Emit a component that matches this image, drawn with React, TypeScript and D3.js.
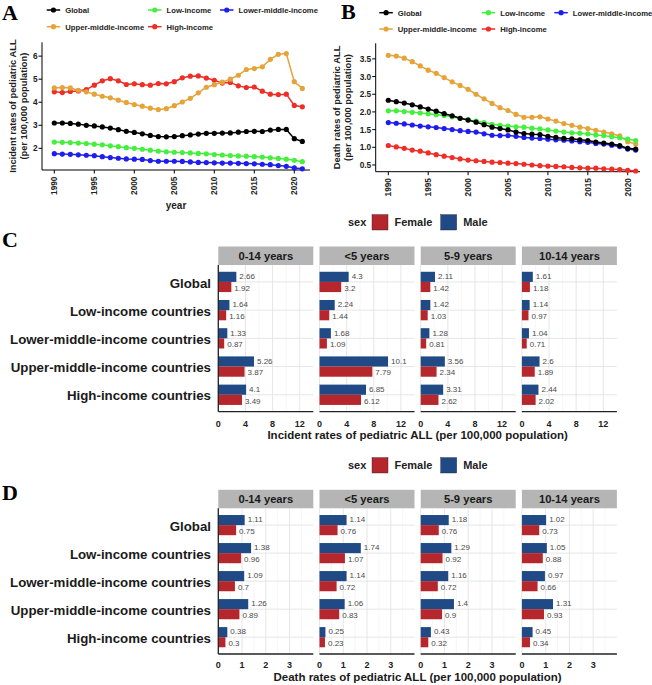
import React from "react";
import * as d3 from "d3";

const FONT = "'Liberation Sans', Arial, Helvetica, sans-serif";
const SERIF = "'Liberation Serif', 'Times New Roman', serif";

// ---------- Panel A/B data ----------
const years = [1990, 1991, 1992, 1993, 1994, 1995, 1996, 1997, 1998, 1999, 2000, 2001, 2002, 2003, 2004, 2005,
  2006, 2007, 2008, 2009, 2010, 2011, 2012, 2013, 2014, 2015, 2016, 2017, 2018, 2019, 2020, 2021];
const seriesNames = ["Global", "Low-income", "Lower-middle-income", "Upper-middle-income", "High-income"];
const seriesColors = ["#000000", "#45ef3d", "#1d1def", "#e6a33a", "#ee2e27"];

const incGlobal = [3.10, 3.10, 3.08, 3.05, 3.00, 2.97, 2.93, 2.88, 2.81, 2.74, 2.69, 2.63, 2.56, 2.51, 2.50, 2.51,
  2.55, 2.58, 2.62, 2.65, 2.65, 2.66, 2.67, 2.70, 2.73, 2.74, 2.73, 2.79, 2.82, 2.82, 2.42, 2.30];
const incLow = [2.27, 2.26, 2.25, 2.23, 2.21, 2.18, 2.15, 2.11, 2.07, 2.03, 2.00, 1.96, 1.92, 1.88, 1.85, 1.83,
  1.82, 1.80, 1.78, 1.76, 1.73, 1.71, 1.69, 1.67, 1.66, 1.64, 1.62, 1.59, 1.56, 1.53, 1.48, 1.42];
const incLowerMid = [1.77, 1.75, 1.74, 1.72, 1.70, 1.68, 1.64, 1.60, 1.57, 1.54, 1.53, 1.52, 1.47, 1.44, 1.44, 1.44,
  1.43, 1.41, 1.39, 1.38, 1.37, 1.36, 1.36, 1.35, 1.34, 1.33, 1.31, 1.29, 1.25, 1.22, 1.15, 1.11];
const incUpperMid = [4.62, 4.64, 4.62, 4.52, 4.45, 4.35, 4.26, 4.19, 4.09, 3.99, 3.90, 3.83, 3.74, 3.68, 3.72, 3.85,
  4.01, 4.17, 4.41, 4.65, 4.76, 4.87, 5.00, 5.17, 5.42, 5.46, 5.54, 5.86, 6.08, 6.11, 4.89, 4.60];
const incHigh = [4.45, 4.42, 4.47, 4.49, 4.55, 4.74, 4.93, 5.02, 4.93, 4.77, 4.80, 4.76, 4.74, 4.81, 4.80, 4.89,
  5.06, 5.13, 5.14, 5.05, 4.95, 4.83, 4.86, 4.71, 4.64, 4.66, 4.48, 4.35, 4.33, 4.35, 3.86, 3.80];

const dthGlobal = [2.33, 2.29, 2.25, 2.20, 2.14, 2.08, 2.02, 1.95, 1.89, 1.82, 1.77, 1.71, 1.64, 1.57, 1.53, 1.49,
  1.43, 1.39, 1.37, 1.36, 1.31, 1.28, 1.25, 1.24, 1.21, 1.19, 1.15, 1.12, 1.09, 1.05, 0.97, 0.95];
const dthLow = [2.03, 2.03, 2.01, 1.99, 1.97, 1.95, 1.92, 1.90, 1.86, 1.82, 1.78, 1.74, 1.70, 1.65, 1.62, 1.60,
  1.58, 1.57, 1.54, 1.52, 1.49, 1.46, 1.43, 1.41, 1.40, 1.38, 1.35, 1.33, 1.30, 1.27, 1.23, 1.19];
const dthLowerMid = [1.70, 1.68, 1.66, 1.63, 1.60, 1.58, 1.56, 1.53, 1.50, 1.47, 1.45, 1.43, 1.38, 1.34, 1.33, 1.33,
  1.31, 1.28, 1.26, 1.25, 1.23, 1.21, 1.20, 1.18, 1.16, 1.14, 1.11, 1.09, 1.06, 1.02, 0.95, 0.92];
const dthUpperMid = [3.60, 3.58, 3.52, 3.42, 3.30, 3.18, 3.09, 2.97, 2.85, 2.75, 2.64, 2.50, 2.37, 2.24, 2.12, 2.04,
  1.93, 1.85, 1.85, 1.86, 1.80, 1.74, 1.67, 1.62, 1.57, 1.53, 1.48, 1.43, 1.38, 1.32, 1.16, 1.09];
const dthHigh = [1.05, 1.01, 0.97, 0.92, 0.89, 0.84, 0.79, 0.75, 0.71, 0.67, 0.64, 0.62, 0.60, 0.58, 0.57, 0.55,
  0.54, 0.52, 0.50, 0.48, 0.47, 0.46, 0.45, 0.43, 0.42, 0.41, 0.41, 0.39, 0.38, 0.37, 0.35, 0.33];

const incTicks = [2, 3, 4, 5, 6];
const dthTicks = [0.5, 1.0, 1.5, 2.0, 2.5, 3.0, 3.5];
const yearTicks = [1990, 1995, 2000, 2005, 2010, 2015, 2020];

// ---------- Panel C/D data ----------
const countries = ["Global", "Low-income countries", "Lower-middle-income countries", "Upper-middle-income countries", "High-income countries"];
const ageGroups = ["0-14 years", "<5 years", "5-9 years", "10-14 years"];
const sexes = ["Female", "Male"];
const sexColors = ["#b5272c", "#1f4a85"];

const incMale = [
  [2.66, 1.64, 1.33, 5.26, 4.1],
  [4.3, 2.24, 1.68, 10.1, 6.85],
  [2.11, 1.42, 1.28, 3.56, 3.31],
  [1.61, 1.14, 1.04, 2.6, 2.44],
];
const incFemale = [
  [1.92, 1.16, 0.87, 3.87, 3.49],
  [3.2, 1.44, 1.09, 7.79, 6.12],
  [1.42, 1.03, 0.81, 2.34, 2.62],
  [1.18, 0.97, 0.71, 1.89, 2.02],
];
const dthMale = [
  [1.11, 1.38, 1.09, 1.26, 0.38],
  [1.14, 1.74, 1.14, 1.06, 0.25],
  [1.18, 1.29, 1.16, 1.4, 0.43],
  [1.02, 1.05, 0.97, 1.31, 0.45],
];
const dthFemale = [
  [0.75, 0.96, 0.7, 0.89, 0.3],
  [0.76, 1.07, 0.72, 0.83, 0.23],
  [0.76, 0.92, 0.72, 0.9, 0.32],
  [0.73, 0.88, 0.66, 0.93, 0.34],
];
const incBarTicks = [0, 4, 8, 12];
const incBarMinor = [2, 6, 10];
const dthBarTicks = [0, 1, 2, 3];
const dthBarMinor = [0.5, 1.5, 2.5, 3.5];

// ---------- Line panel ----------
type LineProps = {
  letter: string; letterX: number; letterY: number;
  axisX: number; top: number; bottom: number; right: number;
  xRange: [number, number]; yDomain: [number, number];
  ticks: number[]; fmt: (v: number) => string;
  data: number[][];
  title1: string; title2: string; t1x: number; t2x: number;
  legendRows: [number, number]; legendCols: number[];
  xTitle?: string; xTitleY?: number; xLabY: number;
};

function LinePanel(p: LineProps) {
  const x = d3.scaleLinear().domain([1990, 2021]).range(p.xRange);
  const y = d3.scaleLinear().domain(p.yDomain).range([p.bottom, p.top]);
  const line = d3.line<number>().x((_, i) => x(years[i])).y((v) => y(v));
  const midY = (p.top + p.bottom) / 2;
  const legendPos = [
    [p.legendCols[0], p.legendRows[0]],
    [p.legendCols[1], p.legendRows[0]],
    [p.legendCols[2], p.legendRows[0]],
    [p.legendCols[0], p.legendRows[1]],
    [p.legendCols[1], p.legendRows[1]],
  ];
  const drawOrder = [4, 3, 2, 1, 0];
  return (
    <g>
      <text x={p.letterX} y={p.letterY} fontFamily={SERIF} fontWeight="bold" fontSize={22}>{p.letter}</text>
      {legendPos.map(([lx, ly], i) => (
        <g key={i}>
          <line x1={lx} x2={lx + 13.5} y1={ly} y2={ly} stroke={seriesColors[i]} strokeWidth={1.5} />
          <circle cx={lx + 6.75} cy={ly} r={2.6} fill={seriesColors[i]} />
          <text x={lx + 18.5} y={ly + 2.8} fontFamily={FONT} fontWeight="bold" fontSize={7.7} fill="#222">{seriesNames[i]}</text>
        </g>
      ))}
      {/* axes */}
      <line x1={p.axisX} x2={p.axisX} y1={p.top} y2={p.bottom} stroke="#000" strokeWidth={1} />
      <line x1={p.axisX} x2={p.right} y1={p.bottom} y2={p.bottom} stroke="#000" strokeWidth={1} />
      {p.ticks.map((t) => (
        <g key={t}>
          <line x1={p.axisX - 3.5} x2={p.axisX} y1={y(t)} y2={y(t)} stroke="#000" />
          <text x={p.axisX - 4.5} y={y(t) + 3} textAnchor="end" fontFamily={FONT} fontWeight="bold" fontSize={8.3} fill="#222">{p.fmt(t)}</text>
        </g>
      ))}
      {yearTicks.map((t) => (
        <g key={t}>
          <line x1={x(t)} x2={x(t)} y1={p.bottom} y2={p.bottom + 3.5} stroke="#000" />
          <text transform={`translate(${x(t) + 3},${p.xLabY}) rotate(-90)`} textAnchor="end" fontFamily={FONT} fontWeight="bold" fontSize={8.3} fill="#222">{t}</text>
        </g>
      ))}
      <text transform={`translate(${p.t1x},${midY}) rotate(-90)`} textAnchor="middle" fontFamily={FONT} fontWeight="bold" fontSize={9.3} fill="#222">{p.title1}</text>
      <text transform={`translate(${p.t2x},${midY}) rotate(-90)`} textAnchor="middle" fontFamily={FONT} fontWeight="bold" fontSize={9.3} fill="#222">{p.title2}</text>
      {p.xTitle && (
        <text x={(p.axisX + p.right) / 2} y={p.xTitleY} textAnchor="middle" fontFamily={FONT} fontWeight="bold" fontSize={10} fill="#222">{p.xTitle}</text>
      )}
      {drawOrder.map((i) => (
        <g key={i}>
          <path d={line(p.data[i]) || ""} fill="none" stroke={seriesColors[i]} strokeWidth={1.5} />
          {p.data[i].map((v, j) => (
            <circle key={j} cx={x(years[j])} cy={y(v)} r={2.6} fill={seriesColors[i]} />
          ))}
        </g>
      ))}
    </g>
  );
}

// ---------- Bar panel ----------
type BarProps = {
  letter: string; letterY: number; legendY: number;
  top: number; bottom: number; xMax: number;
  ticks: number[]; minor: number[];
  male: number[][]; female: number[][];
  xTitle: string; tickY: number; titleY: number;
};

const panelLefts = [218.3, 319.5, 420.7, 521.9];
const panelW = 95;

function BarPanel(p: BarProps) {
  const yPt = d3.scalePoint<string>().domain(countries).range([p.top, p.bottom]).padding(0.6);
  const step = yPt.step();
  const barH = step * 0.36;
  const legendItems = [
    { x: 372, label: sexes[0], color: sexColors[0] },
    { x: 440.7, label: sexes[1], color: sexColors[1] },
  ];
  return (
    <g>
      <text x={2} y={p.letterY} fontFamily={SERIF} fontWeight="bold" fontSize={22}>{p.letter}</text>
      <text x={348} y={p.legendY + 4} fontFamily={FONT} fontWeight="bold" fontSize={11} fill="#222">sex</text>
      {legendItems.map((it) => (
        <g key={it.label}>
          <rect x={it.x} y={p.legendY - 7.7} width={16} height={15.4} fill={it.color} stroke="#222" strokeWidth={0.4} />
          <text x={it.x + 22.5} y={p.legendY + 4} fontFamily={FONT} fontWeight="bold" fontSize={11} fill="#222">{it.label}</text>
        </g>
      ))}
      {countries.map((c) => (
        <text key={c} x={211} y={(yPt(c) as number) + 5.6} textAnchor="end" fontFamily={FONT} fontWeight="bold" fontSize={13.3} fill="#1a1a1a">{c}</text>
      ))}
      {ageGroups.map((ag, gi) => {
        const left = panelLefts[gi];
        const x = d3.scaleLinear().domain([0, p.xMax]).range([left, left + panelW]);
        return (
          <g key={ag}>
            <rect x={left} y={p.top - 18.5} width={panelW} height={18.5} fill="#b5b5b5" />
            <text x={left + panelW / 2} y={p.top - 5.3} textAnchor="middle" fontFamily={FONT} fontWeight="bold" fontSize={11.2} fill="#1a1a1a">{ag}</text>
            {p.minor.map((t) => (
              <line key={"m" + t} x1={x(t)} x2={x(t)} y1={p.top} y2={p.bottom} stroke="#f0f0f0" strokeWidth={0.6} />
            ))}
            {p.ticks.map((t) => (
              <line key={"M" + t} x1={x(t)} x2={x(t)} y1={p.top} y2={p.bottom} stroke="#e3e3e3" strokeWidth={0.9} />
            ))}
            {countries.map((c) => (
              <line key={"h" + c} x1={left} x2={left + panelW} y1={yPt(c) as number} y2={yPt(c) as number} stroke="#e3e3e3" strokeWidth={0.9} />
            ))}
            {countries.map((c, ci) => {
              const cy = yPt(c) as number;
              const m = p.male[gi][ci];
              const f = p.female[gi][ci];
              return (
                <g key={c}>
                  <rect x={x(0)} y={cy - barH} width={x(m) - x(0)} height={barH} fill={sexColors[1]} />
                  <rect x={x(0)} y={cy} width={x(f) - x(0)} height={barH} fill={sexColors[0]} />
                  <text x={x(m) + 3} y={cy - barH / 2 + 2.3} fontFamily={FONT} fontSize={8} fill="#4a4a4a">{String(m)}</text>
                  <text x={x(f) + 3} y={cy + barH / 2 + 3.8} fontFamily={FONT} fontSize={8} fill="#4a4a4a">{String(f)}</text>
                </g>
              );
            })}
            <line x1={left} x2={left + panelW} y1={p.bottom} y2={p.bottom} stroke="#222" strokeWidth={1.3} />
            {p.ticks.map((t) => (
              <text key={"l" + t} x={x(t)} y={p.tickY} textAnchor="middle" fontFamily={FONT} fontWeight="bold" fontSize={9} fill="#222">{t}</text>
            ))}
          </g>
        );
      })}
      <line x1={panelLefts[0]} x2={panelLefts[0]} y1={p.top} y2={p.bottom} stroke="#222" strokeWidth={1.3} />
      <text x={(panelLefts[0] + panelLefts[3] + panelW) / 2} y={p.titleY} textAnchor="middle" fontFamily={FONT} fontWeight="bold" fontSize={11.5} fill="#1a1a1a">{p.xTitle}</text>
    </g>
  );
}

export default function App() {
  return (
    <svg width={652} height={685} style={{ position: "absolute", left: 0, top: 0, background: "#fff" }}>
      <rect x={0} y={0} width={652} height={685} fill="#fff" />
      <LinePanel
        letter="A" letterX={2} letterY={20}
        axisX={42} top={42.3} bottom={170} right={310}
        xRange={[54.3, 302.3]} yDomain={[1.06, 6.6]}
        ticks={incTicks} fmt={(v) => String(v)}
        data={[incGlobal, incLow, incLowerMid, incUpperMid, incHigh]}
        title1="Incident rates of pediatric ALL" title2="(per 100,000 population)" t1x={16.3} t2x={27.3}
        legendRows={[10, 26.7]} legendCols={[46.7, 148, 220]}
        xTitle="year" xTitleY={209} xLabY={176.5}
      />
      <LinePanel
        letter="B" letterX={341} letterY={18.5}
        axisX={375.7} top={43.3} bottom={171.7} right={640}
        xRange={[388.3, 635.7]} yDomain={[0.31, 3.94]}
        ticks={dthTicks} fmt={(v) => v.toFixed(1)}
        data={[dthGlobal, dthLow, dthLowerMid, dthUpperMid, dthHigh]}
        title1="Death rates of pediatric ALL" title2="(per 100,000 population)" t1x={340} t2x={351}
        legendRows={[12.7, 29]} legendCols={[379.3, 481.7, 554.3]}
        xLabY={178}
      />
      <BarPanel
        letter="C" letterY={247} legendY={222.3}
        top={265} bottom={411.7} xMax={14}
        ticks={incBarTicks} minor={incBarMinor}
        male={incMale} female={incFemale}
        xTitle="Incident rates of pediatric ALL (per 100,000 population)" tickY={426.5} titleY={438.6}
      />
      <BarPanel
        letter="D" letterY={500} legendY={465.3}
        top={508.3} bottom={654} xMax={4}
        ticks={dthBarTicks} minor={dthBarMinor}
        male={dthMale} female={dthFemale}
        xTitle="Death rates of pediatric ALL (per 100,000 population)" tickY={668.3} titleY={681}
      />
    </svg>
  );
}
